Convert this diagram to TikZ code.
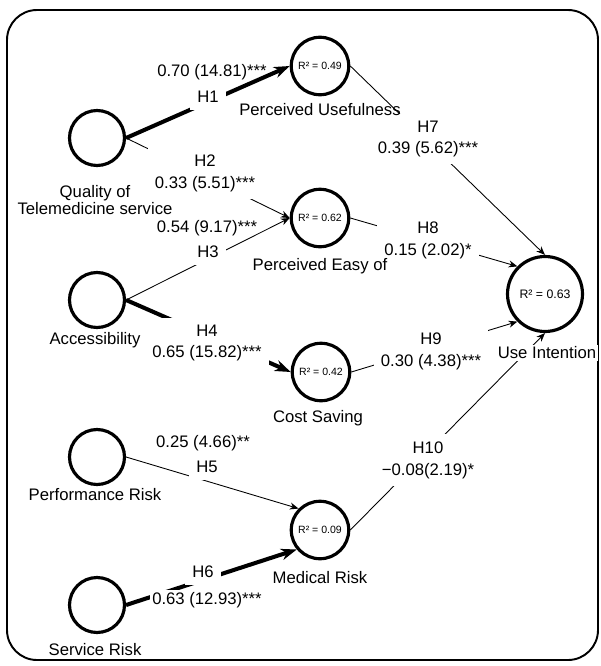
\documentclass[tikz,border=0pt]{standalone}
\usepackage{fontspec}
\setmainfont{Liberation Sans}
\usetikzlibrary{arrows.meta}

\begin{document}
\begin{tikzpicture}[x=0.02cm, y=-0.02cm, >=Stealth, % pixel grid, y downwards
    construct/.style={draw, circle, line width=1.8pt, minimum size=1.1cm, inner sep=0pt, font=\fontsize{6}{7}\selectfont},
    mediator/.style={construct, minimum size=1.15cm},
    outcome/.style={construct, minimum size=1.5cm, font=\fontsize{7}{8}\selectfont},
    cname/.style={font=\fontsize{9.5}{9.8}\selectfont, align=center, inner sep=1pt},
    weak/.style={line width=0.5pt, -{Stealth[length=5pt,width=4pt]}},
    strong/.style={line width=2.3pt, -{Stealth[length=9pt,width=6.5pt]}},
    coef/.style={font=\fontsize{9.5}{12.5}\selectfont, align=center, inner sep=1pt},
    hyp/.style={coef, fill=white, inner sep=4pt}]
    \useasboundingbox (0,0) rectangle (600,666);

    % Outer frame
    \draw[line width=1.1pt, rounded corners=0.6cm] (7,10) rectangle (598,660);

    % Exogenous constructs
    \node[construct] (qual) at (97,138) {};
    \node[construct] (access) at (97,300) {};
    \node[construct] (perf) at (97,457) {};
    \node[construct] (serv) at (97,605) {};

    % Mediating constructs with R^2
    \node[mediator] (pu) at (320,66) {R² = 0.49};
    \node[mediator] (pe) at (320,218) {R² = 0.62};
    \node[mediator] (cs) at (321,372) {R² = 0.42};
    \node[mediator] (mr) at (320,530) {R² = 0.09};

    % Dependent construct
    \node[outcome] (ui) at (545,294) {R² = 0.63};

    % Paths
    % \draw[style] (fromWhere) -- (toWhere);
    \draw[strong] (qual.east) -- (pu.west);
    \draw[weak] (qual.east) -- (pe.west);
    \draw[weak] (access.east) -- (pe.west);
    \draw[strong] (access.east) -- (cs.west);
    \draw[weak] (perf.east) -- (mr.135);
    \draw[strong] (serv.east) -- (mr.220);
    \draw[weak] (pu.east) -- (ui.north);
    \draw[weak] (pe.east) -- (ui.135);
    \draw[weak] (cs.east) -- (ui.225);
    \draw[weak] (mr.east) -- (ui.south);

    % Path coefficients
    \node[coef] (b1) at (212,72) {0.70 (14.81)***};
    \node[hyp] (h1) at (208,97) {H1};
    \node[hyp] (h2) at (205,173) {H2\\0.33 (5.51)***};
    \node[coef] (b3) at (207,228) {0.54 (9.17)***};
    \node[hyp] (h3) at (208,252) {H3};
    \node[hyp] (h4) at (207,343) {H4\\0.65 (15.82)***};
    \node[coef] (b5) at (203,443) {0.25 (4.66)**};
    \node[hyp] (h5) at (207,467) {H5};
    \node[hyp] (h6) at (203,572) {H6};
    \node[hyp, inner sep=1pt] (b6) at (207,600) {0.63 (12.93)***};
    \node[hyp] (h7) at (428,139) {H7\\0.39 (5.62)***};
    \node[hyp] (h8) at (428,240) {H8\\0.15 (2.02)*};
    \node[hyp] (h9) at (431,351) {H9\\0.30 (4.38)***};
    \node[hyp] (h10) at (428,460) {H10\\−0.08(2.19)*};

    % Construct names
    \node[cname] (qual-l) at (95,200) {Quality of\\Telemedicine service};
    \node[cname] (access-l) at (95,340) {Accessibility};
    \node[cname] (perf-l) at (95,495) {Performance Risk};
    \node[cname] (serv-l) at (95,650) {Service Risk};
    \node[cname] (pu-l) at (320,110) {Perceived Usefulness};
    \node[cname] (pe-l) at (320,266) {Perceived Easy of};
    \node[cname] (cs-l) at (318,418) {Cost Saving};
    \node[cname] (mr-l) at (320,578) {Medical Risk};
    \node[cname, fill=white] (ui-l) at (547,353) {Use Intention};

\end{tikzpicture}
\end{document}
